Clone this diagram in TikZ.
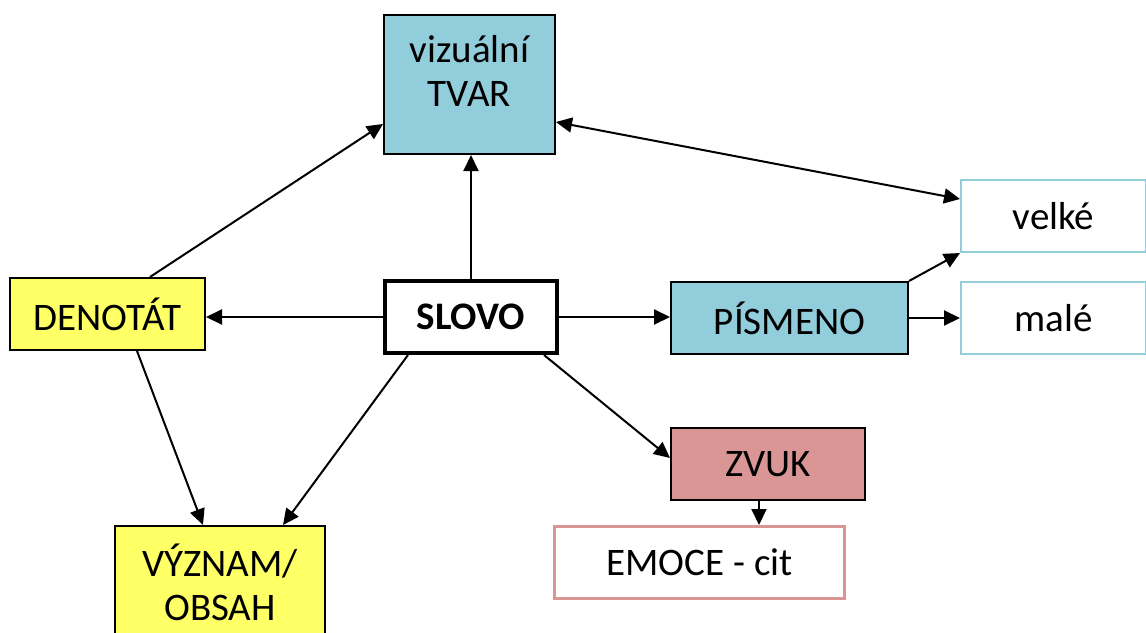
\documentclass[tikz,border=0pt]{standalone}
\usepackage{fontspec}
\setmainfont{Carlito}
\usetikzlibrary{arrows.meta, calc}
\definecolor{boxblue}{RGB}{146,205,220}
\definecolor{boxyellow}{RGB}{255,255,102}
\definecolor{boxpink}{RGB}{217,150,148}

\begin{document}
\begin{tikzpicture}[
  x=1pt, y=-1pt,
  box/.style={draw, line width=2pt, anchor=north west, inner sep=0pt, align=center, minimum height=72pt, font=\fontsize{39}{44}\selectfont},
  arr/.style={-{Triangle[length=16pt,width=15pt]}, line width=2pt},
  arrboth/.style={{Triangle[length=16pt,width=15pt]}-{Triangle[length=16pt,width=15pt]}, line width=2pt}
]
\useasboundingbox (0,0) rectangle (1146,632);

\node[box, fill=boxblue, minimum width=171pt, minimum height=139pt] (tvar) at (383,14) {\parbox[c][139pt][t]{171pt}{\centering\rule{0pt}{47pt}vizuální\\TVAR}};
\node[box, fill=boxyellow, minimum width=195pt] (denotat) at (9,277) {DENOTÁT};
\node[box, line width=4pt, minimum width=172pt] (slovo) at (383,279) {\bfseries SLOVO};
\node[box, fill=boxblue, minimum width=237pt] (pismeno) at (670,281) {PÍSMENO};
\node[box, draw=boxblue, minimum width=185pt] (velke) at (960,179) {velké};
\node[box, draw=boxblue, minimum width=185pt] (male) at (960,281) {malé};
\node[box, fill=boxpink, minimum width=194pt] (zvuk) at (670,427) {ZVUK};
\node[box, draw=boxpink, line width=3pt, minimum width=290pt] (emoce) at (553,525) {EMOCE - cit};
\node[box, fill=boxyellow, minimum width=210pt, minimum height=139pt] (vyznam) at (114,525) {\parbox[c][139pt][t]{210pt}{\centering\rule{0pt}{50pt}VÝZNAM/\\OBSAH}};

\coordinate (zvukout) at ($(zvuk.south)+(-9,0)$);

\draw[arr] (slovo.north) -- (slovo.north |- tvar.south);
\draw[arr] (slovo.west) -- (slovo.west -| denotat.east);
\draw[arr] (slovo.east) -- (slovo.east -| pismeno.west);
\draw[arr] ($(slovo.south east)+(-15,0)$) -- ($(zvuk.north west)+(0,31)$);
\draw[arr] ($(slovo.south west)+(25,0)$) -- ($(vyznam.north west)+(169,0)$);
\draw[arr] ($(denotat.north west)+(141,0)$) -- ($(tvar.north west)+(0,110)$);
\draw[arr] ($(denotat.south west)+(128,0)$) -- ($(vyznam.north west)+(89,0)$);
\draw[arrboth] ($(tvar.north east)+(0,108)$) -- ($(velke.north west)+(0,20)$);
\draw[arr] (pismeno.north east) -- (velke.south west);
\draw[arr] (pismeno.east) -- (pismeno.east -| male.west);
\draw[arr] (zvukout) -- (zvukout |- emoce.north);
\end{tikzpicture}
\end{document}
